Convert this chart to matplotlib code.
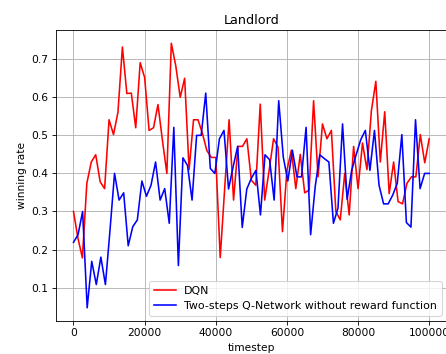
import matplotlib
matplotlib.use('Agg')
import matplotlib.pyplot as plt
import numpy as np

##### winning rate logged during training (0 ~ 100000 timesteps)
dqn_rate = [0.300, 0.230, 0.178, 0.374, 0.430, 0.449, 0.378, 0.360, 0.541, 0.502,
            0.561, 0.732, 0.610, 0.611, 0.520, 0.691, 0.652, 0.513, 0.520, 0.581,
            0.487, 0.400, 0.742, 0.683, 0.600, 0.650, 0.410, 0.541, 0.541, 0.505,
            0.460, 0.442, 0.442, 0.179, 0.360, 0.541, 0.330, 0.471, 0.471, 0.491,
            0.382, 0.369, 0.582, 0.330, 0.408, 0.491, 0.469, 0.247, 0.408, 0.461,
            0.360, 0.450, 0.349, 0.356, 0.591, 0.391, 0.530, 0.491, 0.513, 0.300,
            0.278, 0.400, 0.291, 0.471, 0.360, 0.480, 0.410, 0.565, 0.642, 0.430,
            0.562, 0.347, 0.430, 0.326, 0.320, 0.374, 0.391, 0.391, 0.502, 0.428,
            0.491]

twostep_rate = [0.219, 0.239, 0.300, 0.047, 0.169, 0.108, 0.180, 0.108, 0.250, 0.400,
                0.330, 0.349, 0.210, 0.260, 0.278, 0.380, 0.340, 0.369, 0.430, 0.330,
                0.360, 0.269, 0.521, 0.158, 0.441, 0.421, 0.330, 0.500, 0.500, 0.611,
                0.413, 0.400, 0.491, 0.513, 0.359, 0.417, 0.471, 0.258, 0.359, 0.387,
                0.408, 0.291, 0.449, 0.436, 0.330, 0.591, 0.443, 0.380, 0.461, 0.391,
                0.391, 0.521, 0.239, 0.365, 0.449, 0.439, 0.430, 0.269, 0.309, 0.530,
                0.332, 0.408, 0.450, 0.489, 0.513, 0.408, 0.513, 0.369, 0.320, 0.320,
                0.343, 0.374, 0.502, 0.271, 0.259, 0.541, 0.360, 0.400, 0.400]

dqn_steps = np.linspace(0, 100000, len(dqn_rate))
twostep_steps = np.linspace(0, 100000, len(twostep_rate))

# low dpi keeps text / line sizes small relative to the canvas
dpi = 76.5
fig = plt.figure(figsize=(446 / dpi, 354 / dpi), dpi=dpi)
ax = fig.add_axes([0.1249, 0.0932, 0.8773, 0.822])

ax.plot(dqn_steps, dqn_rate, color='red', label='DQN')
ax.plot(twostep_steps, twostep_rate, color='blue',
        label='Two-steps Q-Network without reward function')

ax.set_title('Landlord')
ax.set_xlabel('timestep')
ax.set_ylabel('winning rate')
ax.grid(True)
ax.legend(loc='lower right', fontsize=10.3)

fig.savefig('out.png', dpi=dpi)
